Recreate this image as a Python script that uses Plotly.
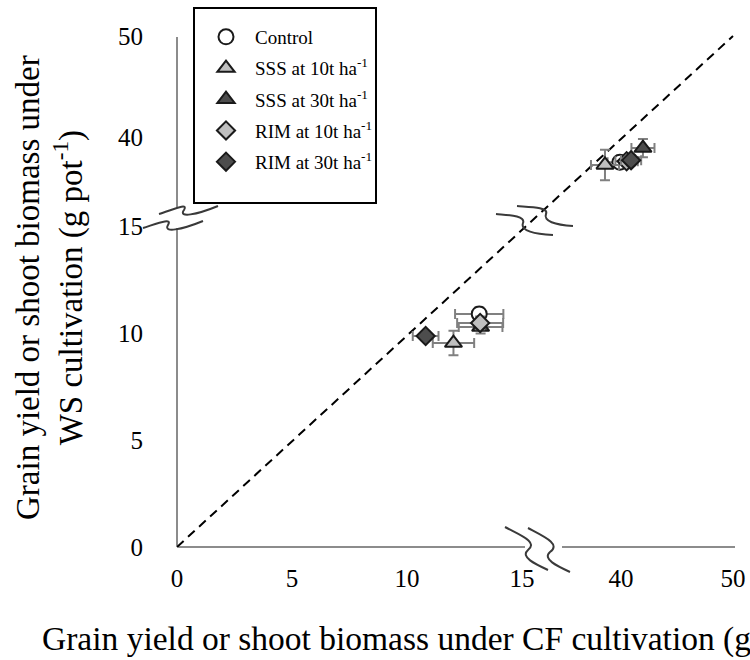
import plotly.graph_objects as go

# ---------------- data ----------------
treatments = ["Control", "SSS at 10t ha<sup>-1</sup>", "SSS at 30t ha<sup>-1</sup>",
              "RIM at 10t ha<sup>-1</sup>", "RIM at 30t ha<sup>-1</sup>"]
# grain yield cluster (low range)
cf_low = [13.14, 12.02, 13.20, 13.18, 10.81]
ws_low = [10.89, 9.53, 10.28, 10.47, 9.86]
cf_low_err = [1.05, 0.90, 0.95, 1.00, 0.56]
ws_low_err = [0.30, 0.57, 0.30, 0.30, 0.20]
# shoot biomass cluster (high range)
cf_high = [39.9, 38.57, 41.96, 40.5, 40.9]
ws_high = [37.5, 37.23, 38.9, 37.6, 37.7]
cf_high_err = [1.10, 1.25, 1.03, 1.00, 0.90]
ws_high_err = [0.50, 1.50, 0.90, 0.50, 0.50]

x_ticks = [0, 5, 10, 15, 40, 50]
y_ticks = [0, 5, 10, 15, 40, 50]

symbols = ["circle", "triangle-up", "triangle-up", "diamond", "diamond"]
fills = ["#ffffff", "#bfbfbf", "#4d4d4d", "#bfbfbf", "#4d4d4d"]
sizes = [15, 15, 15, 14, 14]

# ---------------- broken-axis scales ----------------
XL, XH, XOFF = 23.0, 11.2, 444.0
YL, YH, YOFF = 21.4, 10.1, 410.0


def tx(v):
    return v * XL if v <= 15 else XOFF + (v - 40) * XH


def ty(v):
    return v * YL if v <= 15 else YOFF + (v - 40) * YH


def sx(v):
    return XL if v <= 15 else XH


def sy(v):
    return YL if v <= 15 else YH


ORX, ORY = 177, 547      # pixel position of the origin
PW, PH = 570, 527


def pp(x, y):
    """pixel -> paper coordinates (for decorations)"""
    return (x - ORX) / PW, (ORY - y) / PH


fig = go.Figure()

# dashed diagonal
fig.add_trace(go.Scatter(x=[tx(0), tx(50)], y=[ty(0), ty(50)], mode="lines",
                         line=dict(color="black", width=2, dash="9px,6px"),
                         showlegend=False, hoverinfo="skip", cliponaxis=False))

for i, name in enumerate(treatments):
    xs = [cf_low[i], cf_high[i]]
    ys = [ws_low[i], ws_high[i]]
    xe = [cf_low_err[i], cf_high_err[i]]
    ye = [ws_low_err[i], ws_high_err[i]]
    fig.add_trace(go.Scatter(
        x=[tx(v) for v in xs], y=[ty(v) for v in ys], mode="markers", name=name,
        legendgroup=str(i),
        marker=dict(symbol=symbols[i], size=sizes[i], color=fills[i],
                    line=dict(color="#1a1a1a", width=2)),
        error_x=dict(type="data", array=[e * sx(v) for e, v in zip(xe, xs)],
                     color="#808080", thickness=2, width=5),
        error_y=dict(type="data", array=[e * sy(v) for e, v in zip(ye, ys)],
                     color="#808080", thickness=2, width=5),
    ))

shapes = []
axis_col = "#8c8c8c"
# broken axis lines (pixels)
for (x0, y0, x1, y1) in [(ORX, ORY, 525, ORY), (562, ORY, 735, ORY),
                         (ORX, ORY, ORX, 228), (ORX, 207, ORX, 37)]:
    a, b = pp(x0, y0)
    c, d = pp(x1, y1)
    shapes.append(dict(type="line", xref="paper", yref="paper", x0=a, y0=b, x1=c, y1=d,
                       line=dict(color=axis_col, width=2), layer="below"))


def curve(points):
    q = [pp(*p) for p in points]
    s = "M {:.5f} {:.5f}".format(*q[0])
    for k in (1, 4):
        s += " C {:.5f} {:.5f}, {:.5f} {:.5f}, {:.5f} {:.5f}".format(
            q[k][0], q[k][1], q[k + 1][0], q[k + 1][1], q[k + 2][0], q[k + 2][1])
    return s


break_curves = [
    # x-axis break
    [(505, 527), (522, 536), (538, 542), (528, 550), (520, 557), (535, 564), (548, 570)],
    [(528, 528), (545, 537), (561, 544), (550, 552), (542, 559), (557, 566), (570, 572)],
    # y-axis break
    [(159, 214), (172, 210), (189, 202), (184, 210), (178, 218), (196, 215), (218, 206)],
    [(143, 228), (156, 224), (173, 217), (168, 225), (163, 233), (181, 230), (203, 221)],
    # break mark inside the plot
    [(517, 206), (530, 207), (549, 207), (546, 214), (543, 221), (555, 225), (573, 226)],
    [(496, 214), (506, 215), (526, 215), (523, 223), (520, 231), (535, 234), (553, 235)],
]
for pts in break_curves:
    shapes.append(dict(type="path", xref="paper", yref="paper", path=curve(pts),
                       line=dict(color="#3a3a3a", width=2)))

# legend frame
lx0, ly0 = pp(194, 8)
lx1, ly1 = pp(376, 203)
shapes.append(dict(type="rect", xref="paper", yref="paper", x0=lx0, y0=ly1, x1=lx1, y1=ly0,
                   line=dict(color="black", width=2), fillcolor="white", layer="above"))

font_family = "Liberation Serif, Times New Roman, serif"

ml = ORX
mt = ORY - PH

fig.update_layout(
    width=750, height=660,
    margin=dict(l=ml, r=750 - ml - PW, t=mt, b=660 - mt - PH, pad=0),
    paper_bgcolor="white", plot_bgcolor="white",
    font=dict(family=font_family, color="black"),
    shapes=shapes,
    xaxis=dict(range=[0, PW], showgrid=False, zeroline=False, showline=False,
               automargin=False,
               tickmode="array", tickvals=[tx(v) for v in x_ticks],
               ticktext=[str(v) for v in x_ticks], ticks="outside", ticklen=9,
               tickcolor="rgba(0,0,0,0)", tickfont=dict(size=25, family=font_family)),
    yaxis=dict(range=[0, PH], showgrid=False, zeroline=False, showline=False,
               automargin=False,
               tickmode="array", tickvals=[ty(v) for v in y_ticks],
               ticktext=[str(v) for v in y_ticks], ticks="outside", ticklen=28,
               tickcolor="rgba(0,0,0,0)", tickfont=dict(size=25, family=font_family)),
    legend=dict(x=(197 - ORX) / PW, y=(ORY - 18) / PH, xanchor="left", yanchor="top",
                bgcolor="rgba(0,0,0,0)", borderwidth=0,
                font=dict(size=19, family=font_family), itemwidth=48,
                tracegroupgap=3.5, traceorder="grouped"),
    annotations=[
        dict(text="Grain yield or shoot biomass under CF cultivation (g pot<sup>-1</sup>)",
             xref="paper", yref="paper", x=(40 - ORX) / PW, y=(ORY - 636) / PH,
             xanchor="left", yanchor="middle", showarrow=False,
             font=dict(size=33.5, family=font_family)),
        dict(text="Grain yield or shoot biomass under<br>WS cultivation (g pot<sup>-1</sup>)",
             xref="paper", yref="paper", x=(50 - ORX) / PW, y=(ORY - 288) / PH,
             xanchor="center", yanchor="middle", textangle=-90, showarrow=False,
             font=dict(size=33, family=font_family)),
    ],
)

fig.write_html("out.html", config={"displayModeBar": False},
               post_script="document.body.style.margin='0px';"
                           "document.body.style.overflow='hidden';")
